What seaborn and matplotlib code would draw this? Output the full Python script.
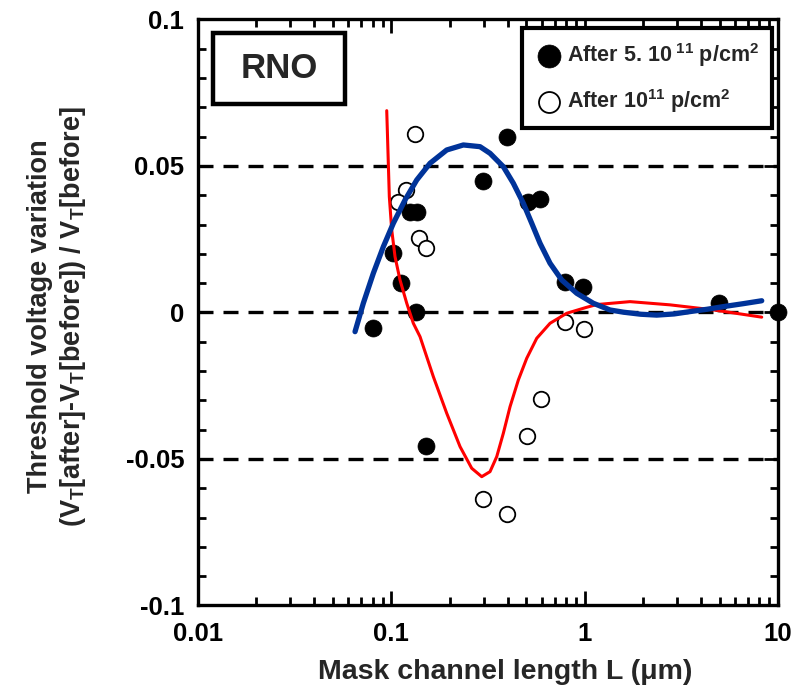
import matplotlib
matplotlib.use("Agg")
import matplotlib.pyplot as plt
from matplotlib.patches import Rectangle
from matplotlib.ticker import MultipleLocator, LogLocator, NullFormatter
import seaborn as sns
import pandas as pd

# Measured threshold-voltage shifts (filled: 5e11 p/cm2, open: 1e11 p/cm2)
filled_L = [0.0807, 0.1016, 0.1118, 0.125, 0.1353, 0.1342, 0.1512, 0.2991,
            0.398, 0.51, 0.59, 0.791, 0.984, 4.97, 10.0]
filled_dV = [-0.0054, 0.0204, 0.0102, 0.0344, 0.0344, 0.0, -0.0455, 0.0449,
             0.0598, 0.0378, 0.0386, 0.0105, 0.0086, 0.0033, 0.0]

open_L = [0.1326, 0.1191, 0.1087, 0.139, 0.1512, 0.791, 0.992, 0.5966,
          0.5015, 0.2991, 0.398]
open_dV = [0.0609, 0.0418, 0.0378, 0.0253, 0.0221, -0.0031, -0.0057, -0.0294,
           -0.0422, -0.0638, -0.0688]

# Fitted trend curves
blue_L = [0.06488, 0.07161, 0.08068, 0.0909, 0.10237, 0.1177, 0.1353, 0.15849,
          0.19337, 0.2357, 0.28746, 0.32385, 0.3795, 0.42748, 0.4815, 0.53224,
          0.58749, 0.66191, 0.76067, 0.90953, 1.1083, 1.3525, 1.585, 1.95,
          2.358, 2.9, 3.506, 4.3, 5.213, 6.6, 8.235]
blue_dV = [-0.00655, 0.00314, 0.01338, 0.02246, 0.03044, 0.0384, 0.04522,
           0.05092, 0.05546, 0.05717, 0.05659, 0.05433, 0.04976, 0.0441,
           0.03727, 0.03044, 0.02362, 0.01679, 0.01109, 0.00655, 0.00314,
           0.00085, 0.0001, -0.0006, -0.0009, -0.0005, 0.0003, 0.0011, 0.002,
           0.003, 0.004]

red_L = [0.09464, 0.09531, 0.09645, 0.09761, 0.10044, 0.10447, 0.11086,
         0.12012, 0.12993, 0.14071, 0.16488, 0.19337, 0.22665, 0.26041,
         0.29338, 0.32385, 0.35075, 0.3795, 0.41105, 0.45377, 0.50142,
         0.5648, 0.66191, 0.80724, 1.0244, 1.154, 1.716, 2.763, 4.61, 8.235]
red_dV = [0.06887, 0.06229, 0.05092, 0.03952, 0.02816, 0.01904, 0.01109,
          0.00314, -0.00369, -0.00826, -0.02191, -0.0344, -0.0458, -0.05317,
          -0.05604, -0.05433, -0.04922, -0.04123, -0.03215, -0.02304,
          -0.01563, -0.00881, -0.00369, -0.00027, 0.00177, 0.0027, 0.0037,
          0.0026, 0.0009, -0.0016]

x_ticks = [0.01, 0.1, 1, 10]
x_tick_labels = ["0.01", "0.1", "1", "10"]
y_ticks = [-0.1, -0.05, 0, 0.05, 0.1]
y_tick_labels = ["-0.1", "-0.05", "0", "0.05", "0.1"]
ref_levels = [0.05, 0.0, -0.05]

sns.set_theme(style="ticks")
plt.rcParams["font.family"] = ["Liberation Sans", "DejaVu Sans"]
plt.rcParams["font.weight"] = "bold"
plt.rcParams["mathtext.fontset"] = "custom"
plt.rcParams["mathtext.rm"] = "Liberation Sans:bold"
plt.rcParams["mathtext.it"] = "Liberation Sans:bold"
plt.rcParams["mathtext.bf"] = "Liberation Sans:bold"

fig = plt.figure(figsize=(8.03, 6.93), dpi=100)
ax = fig.add_axes([0.2466, 0.1263, 0.7223, 0.8456])

for lvl in ref_levels:
    ax.axhline(lvl, color="black", lw=2.4, dashes=(4.5, 3), zorder=1)

filled_df = pd.DataFrame({"L": filled_L, "dV": filled_dV})
open_df = pd.DataFrame({"L": open_L, "dV": open_dV})
blue_df = pd.DataFrame({"L": blue_L, "dV": blue_dV})
red_df = pd.DataFrame({"L": red_L, "dV": red_dV})

sns.scatterplot(data=open_df, x="L", y="dV", ax=ax, s=125, marker="o",
                facecolor="white", edgecolor="black", linewidth=1.3,
                label="After 10$^{11}$ p/cm$^2$", zorder=3, clip_on=False)
sns.scatterplot(data=filled_df, x="L", y="dV", ax=ax, s=150, marker="o",
                color="black", edgecolor="black", linewidth=0.5,
                label="After 5. 10$^{\\ 11}$ p/cm$^2$", zorder=4, clip_on=False)
sns.lineplot(data=red_df, x="L", y="dV", ax=ax, sort=False, estimator=None,
             color="#ff0000", lw=2.2, zorder=5)
sns.lineplot(data=blue_df, x="L", y="dV", ax=ax, sort=False, estimator=None,
             color="#003399", lw=3.8, zorder=6)

ax.set_xscale("log")
ax.set_xlim(0.01, 10)
ax.set_ylim(-0.1, 0.1)
ax.set_xticks(x_ticks)
ax.set_xticklabels(x_tick_labels)
ax.xaxis.set_minor_locator(LogLocator(base=10, subs=range(2, 10)))
ax.xaxis.set_minor_formatter(NullFormatter())
ax.set_yticks(y_ticks)
ax.set_yticklabels(y_tick_labels)
ax.yaxis.set_minor_locator(MultipleLocator(0.01))

ax.tick_params(which="both", direction="in", top=True, right=True,
               width=2, colors="black", labelsize=18.5, pad=10)
ax.tick_params(axis="x", which="major", pad=12)
ax.tick_params(which="major", length=10)
ax.tick_params(which="minor", length=6)
for lab in ax.get_xticklabels() + ax.get_yticklabels():
    lab.set_fontweight("bold")
for sp in ax.spines.values():
    sp.set_linewidth(2.4)
    sp.set_color("black")

ax.set_xlabel("Mask channel length L (\u03bcm)", fontsize=20.5, fontweight="bold")
ax.xaxis.set_label_coords(0.529, -0.092)
ax.set_ylabel("Threshold voltage variation\n"
              "(V$_\\mathrm{T}$[after]-V$_\\mathrm{T}$[before]) / V$_\\mathrm{T}$[before]",
              fontsize=19.5, fontweight="bold", linespacing=1.2)
ax.yaxis.set_label_coords(-0.19, 0.494)

# Sample label box
ax.add_patch(Rectangle((0.0259, 0.8558), 0.2276, 0.1212, transform=ax.transAxes,
                       facecolor="white", edgecolor="black", linewidth=3.2,
                       zorder=7, clip_on=False))
ax.text(0.1397, 0.9164, "RNO", transform=ax.transAxes, fontsize=25,
        fontweight="bold", ha="center", va="center", zorder=8)

handles, labels = ax.get_legend_handles_labels()
order = [1, 0]
leg = ax.legend([handles[i] for i in order], [labels[i] for i in order],
                loc="upper right", bbox_to_anchor=(0.997, 0.993),
                frameon=True, fancybox=False, edgecolor="black",
                framealpha=1, fontsize=15.5, markerscale=1.35,
                handletextpad=0.2, labelspacing=0.85, borderpad=0.6,
                handlelength=1.3, borderaxespad=0.2)
leg.get_frame().set_linewidth(3)
leg.set_zorder(9)
for t in leg.get_texts():
    t.set_fontweight("bold")

fig.savefig("out.png", dpi=100)
